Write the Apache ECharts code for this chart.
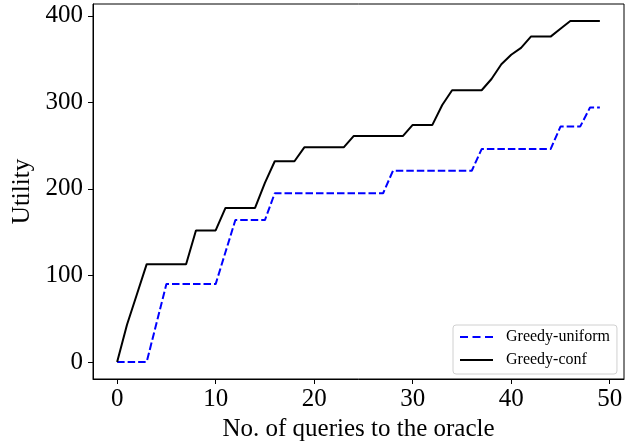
<!DOCTYPE html>
<html><head><meta charset="utf-8">
<script src="https://cdn.jsdelivr.net/npm/echarts@6/dist/echarts.min.js"></script>
<style>html,body{margin:0;padding:0;background:#fff}#c{width:641px;height:447px}</style>
</head><body><div id="c"></div>
<script>
var queries = [0,1,2,3,4,5,6,7,8,9,10,11,12,13,14,15,16,17,18,19,20,21,22,23,24,25,26,27,28,29,30,31,32,33,34,35,36,37,38,39,40,41,42,43,44,45,46,47,48,49];
var greedyUniform = [0,0,0,0,45,90,90,90,90,90,90,127,164,164,164,164,195,195,195,195,195,195,195,195,195,195,195,195,221,221,221,221,221,221,221,221,221,246,246,246,246,246,246,246,246,272,272,272,294,294];
var greedyConf = [0,43,78,113,113,113,113,113,152,152,152,178,178,178,178,207,232,232,232,248,248,248,248,248,261,261,261,261,261,261,274,274,274,297,314,314,314,314,327,344,355,363,376,376,376,385,394,394,394,394];
var xTicks = [0,10,20,30,40,50];
var yTicks = [0,100,200,300,400];

function pairs(xs, ys){ return xs.map(function(x,i){ return [x, ys[i]]; }); }
var FONT = '"Liberation Serif", "Times New Roman", serif';
var chart = echarts.init(document.getElementById('c'));
chart.setOption({
  animation: false,
  grid: { left: 93, right: 17, top: 4, bottom: 65, show: true, borderColor: '#000', borderWidth: 1, containLabel: false },
  xAxis: {
    type: 'value', min: -2.45, max: 51.45,
    name: 'No. of queries to the oracle', nameLocation: 'middle', nameGap: 38,
    nameTextStyle: { fontFamily: FONT, fontSize: 25, color: '#000' },
    axisLine: { show: true, onZero: false, lineStyle: { color: '#000', width: 1 } },
    axisTick: { show: true, inside: false, length: 5, customValues: xTicks, lineStyle: { color: '#000' } },
    axisLabel: { customValues: xTicks, fontFamily: FONT, fontSize: 25, color: '#000', margin: 8 },
    splitLine: { show: false }
  },
  yAxis: {
    type: 'value', min: -19.7, max: 413.7,
    name: 'Utility', nameLocation: 'middle', nameGap: 55,
    nameTextStyle: { fontFamily: FONT, fontSize: 25, color: '#000' },
    axisLine: { show: true, onZero: false, lineStyle: { color: '#000', width: 1 } },
    axisTick: { show: true, inside: false, length: 5, customValues: yTicks, lineStyle: { color: '#000' } },
    axisLabel: { customValues: yTicks, fontFamily: FONT, fontSize: 25, color: '#000', margin: 10 },
    splitLine: { show: false }
  },
  legend: {
    orient: 'vertical', left: 453, top: 325,
    backgroundColor: '#fff', borderColor: '#d0d0d0', borderWidth: 1, borderRadius: 3,
    padding: [4, 7, 6, 7], itemGap: 7, itemWidth: 33, itemHeight: 12,
    textStyle: { fontFamily: FONT, fontSize: 16, color: '#000', padding: [0, 0, 0, 8] },
    data: [
      { name: 'Greedy-uniform', icon: 'path://M0,5 L8,5 L8,7 L0,7 Z M12.5,5 L20.5,5 L20.5,7 L12.5,7 Z M25,5 L33,5 L33,7 L25,7 Z' },
      { name: 'Greedy-conf', icon: 'path://M0,5 L33,5 L33,7 L0,7 Z' }
    ]
  },
  series: [
    { name: 'Greedy-uniform', type: 'line', data: pairs(queries, greedyUniform), showSymbol: false, symbol: 'none',
      itemStyle: { color: '#0000ff' },
      lineStyle: { color: '#0000ff', width: 2, type: [7.5, 3] } },
    { name: 'Greedy-conf', type: 'line', data: pairs(queries, greedyConf), showSymbol: false, symbol: 'none',
      itemStyle: { color: '#000' },
      lineStyle: { color: '#000', width: 2 } }
  ]
});
</script></body></html>
